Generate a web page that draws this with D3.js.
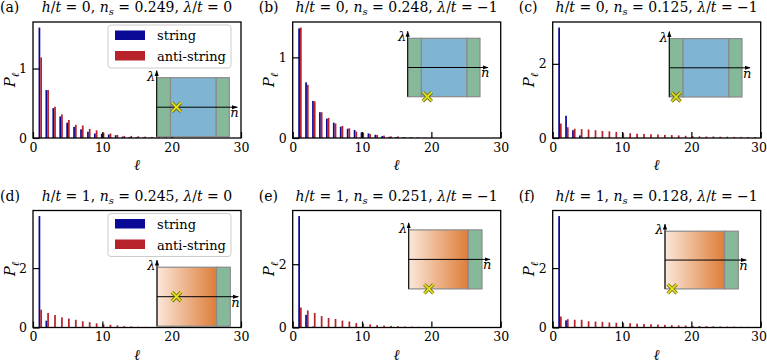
<!DOCTYPE html>
<html>
<head>
<meta charset="utf-8">
<script src="https://cdn.jsdelivr.net/npm/d3@7"></script>
<style>
body{margin:0;background:#fff}
svg text{font-family:"DejaVu Serif",serif;fill:#000}
</style>
</head>
<body>
<div id="chart"></div>
<script>
// ---- data ----
let ellShort=[1,2,3,4,5,6,7,8,9,10,11,12,13,14,15,16,17,18,19,20]
let ellLong=[1,2,3,4,5,6,7,8,9,10,11,12,13,14,15,16,17,18,19,20,21,22,23,24,25,26,27,28,29]

let panelLabels=["(a)","(b)","(c)","(d)","(e)","(f)"]
let hValues=["0","0","0","1","1","1"]
let nsValues=["0.249","0.248","0.125","0.245","0.251","0.128"]
let lambdaValues=[0,-1,-1,0,-1,-1]
let yTickValues=[[0,1],[0,1],[0,2],[0,2],[0,2],[0,2]]
let xTickValues=[0,10,20,30]

let stringA=[1.59,0.69,0.43,0.31,0.22,0.16,0.125,0.09,0.065,0.06,0.05,0.04,0.02,0.015,0.01,0.007,0.005,0.004,0.003,0.002]
let antiA=[1.16,0.69,0.45,0.34,0.26,0.19,0.18,0.13,0.11,0.075,0.065,0.045,0.03,0.03,0.025,0.02,0.015,0.012,0.008,0.005]
let stringB=[1.36,0.69,0.46,0.32,0.24,0.19,0.14,0.115,0.10,0.07,0.057,0.04,0.025,0.015,0.01,0.008,0.006,0.005,0.003,0.002]
let antiB=[1.37,0.66,0.455,0.32,0.25,0.18,0.15,0.12,0.08,0.065,0.05,0.037,0.03,0.02,0.02,0.012,0.01,0.007,0.005,0.003]
let stringC=[2.98,0.60,0.21,0.07,0.02,0.01,0.005,0,0,0,0,0,0,0,0,0,0,0,0,0,0,0,0,0,0,0,0,0,0]
let antiC=[0.39,0.29,0.25,0.24,0.23,0.21,0.19,0.18,0.165,0.14,0.13,0.115,0.11,0.10,0.095,0.085,0.08,0.07,0.06,0.05,0.045,0.04,0.04,0.035,0.035,0.03,0.03,0.028,0.025]
let stringD=[3.75,0.23,0.02,0,0,0,0,0,0,0,0,0,0,0,0,0,0,0,0,0]
let antiD=[0.60,0.49,0.42,0.34,0.30,0.26,0.21,0.18,0.14,0.11,0.09,0.07,0.045,0.035,0.025,0.02,0.015,0.01,0.008,0.005]
let stringE=[3.52,0.40,0.03,0,0,0,0,0,0,0,0,0,0,0,0,0,0,0,0,0]
let antiE=[0.63,0.54,0.46,0.36,0.30,0.27,0.22,0.19,0.14,0.12,0.10,0.075,0.06,0.05,0.04,0.03,0.025,0.02,0.015,0.01]
let stringF=[3.75,0.24,0.02,0,0,0,0,0,0,0,0,0,0,0,0,0,0,0,0,0,0,0,0,0,0,0,0,0,0]
let antiF=[0.37,0.28,0.26,0.26,0.21,0.20,0.19,0.17,0.16,0.15,0.145,0.13,0.12,0.11,0.10,0.09,0.08,0.07,0.065,0.06,0.05,0.045,0.04,0.035,0.03,0.03,0.025,0.02,0.02]

let stringSeries=[stringA,stringB,stringC,stringD,stringE,stringF]
let antiSeries=[antiA,antiB,antiC,antiD,antiE,antiF]
let ellSeries=[ellShort,ellShort,ellLong,ellShort,ellShort,ellLong]
let legendNames=["string","anti-string"]

// phase diagram boundaries of the insets (in n)
let phaseTop=[0.192,0.63]
let phaseBottom=[0.625]

// ---- layout ----
let svgWidth=767, svgHeight=364
let colLeft=[33,292.7,552.7]
let rowTop=[22,210.5]
let chartwidth=208
let chartheights=[116,117]
// inset box relative to each axes: [x, y, w, h]
let insetBox=[[123.7,55.7,72.6,59],[115,16.3,72.3,58.4],[116.6,16.6,72.7,58.4],
              [124,56.7,73.3,59],[116,19.4,73.3,59],[112.3,20.7,73.3,57.7]]
let stringColor="#0a0a96", antiColor="#b8222a"
let green="#86b99a", blue="#7fb5d2", border="#8a8a8a"
let serif='"DejaVu Serif",serif'

let svg=d3.select("#chart").append("svg")
  .attr("width",svgWidth).attr("height",svgHeight)
  .attr("font-family",serif)

let defs=svg.append("defs")
let grad=defs.append("linearGradient").attr("id","orangeGrad")
grad.append("stop").attr("offset","0%").attr("stop-color","#fbe7da")
grad.append("stop").attr("offset","100%").attr("stop-color","#de7d38")
defs.append("marker").attr("id","arrow")
  .attr("viewBox","0 0 10 10").attr("refX",9).attr("refY",5)
  .attr("markerWidth",6).attr("markerHeight",6).attr("orient","auto")
  .append("path").attr("d","M0,1.5L10,5L0,8.5z").attr("fill","#000")

function addTitle(sel,i){
  sel.append("tspan").attr("font-style","italic").text("h")
  sel.append("tspan").text("/")
  sel.append("tspan").attr("font-style","italic").text("t")
  sel.append("tspan").text(" = "+hValues[i]+", ")
  sel.append("tspan").attr("font-style","italic").text("n")
  sel.append("tspan").attr("font-style","italic").attr("font-size","10px").attr("dy",3).text("s")
  sel.append("tspan").attr("dy",-3).text(" = "+nsValues[i]+", ")
  sel.append("tspan").attr("font-style","italic").text("λ")
  sel.append("tspan").text("/")
  sel.append("tspan").attr("font-style","italic").text("t")
  sel.append("tspan").text(" = "+(lambdaValues[i]<0?"\u2212"+(-lambdaValues[i]):lambdaValues[i]))
}

for(let i=0;i<6;i++){
  let col=i%3, row=Math.floor(i/3)
  let w=chartwidth, h=chartheights[row]
  let left=colLeft[col], top=rowTop[row]
  let g=svg.append("g").attr("transform",`translate(${left},${top})`)

  let ells=ellSeries[i], sv=stringSeries[i], av=antiSeries[i]
  let xLinearScale=d3.scaleLinear().domain([0,30]).range([0,w])
  let ymax=d3.max(sv.concat(av))*1.05
  let yLinearScale=d3.scaleLinear().domain([0,ymax]).range([h,0])
  let bw=xLinearScale(0.25)-xLinearScale(0)

  //bars
  g.append("g").selectAll("rect").data(ells).enter().append("rect")
    .attr("x",(d)=>xLinearScale(d-0.2))
    .attr("width",bw)
    .attr("y",(d,k)=>yLinearScale(sv[k]))
    .attr("height",(d,k)=>h-yLinearScale(sv[k]))
    .attr("fill",stringColor)
  g.append("g").selectAll("rect").data(ells).enter().append("rect")
    .attr("x",(d)=>xLinearScale(d+0.05))
    .attr("width",bw)
    .attr("y",(d,k)=>yLinearScale(av[k]))
    .attr("height",(d,k)=>h-yLinearScale(av[k]))
    .attr("fill",antiColor)

  //axes
  let bottomAxis=d3.axisBottom(xLinearScale).tickValues(xTickValues)
    .tickSizeInner(-6).tickSizeOuter(0).tickPadding(5).tickFormat(d3.format("d"))
  let leftAxis=d3.axisLeft(yLinearScale).tickValues(yTickValues[i])
    .tickSizeInner(-6.5).tickSizeOuter(0).tickPadding(6).tickFormat(d3.format("d"))
  let xa=g.append("g").attr("transform",`translate(0,${h})`).call(bottomAxis)
  let ya=g.append("g").call(leftAxis)
  ;[xa,ya].forEach(a=>{
    a.attr("font-family",serif).attr("font-size",12.5)
    a.select(".domain").remove()
    a.selectAll(".tick line").attr("stroke","#000").attr("stroke-width",1.2)
    a.selectAll(".tick text").attr("fill","#000")
  })
  // keep the last label of the right column inside the page
  if(col===2) xa.selectAll(".tick text").filter(d=>d===30).attr("dx",-2.2)

  //inset
  let ib=insetBox[i]
  let ig=g.append("g").attr("transform",`translate(${ib[0]},${ib[1]})`)
  let nScale=d3.scaleLinear().domain([0.06,0.755]).range([0,ib[2]])
  let lScale=d3.scaleLinear().domain([-1,1]).range([ib[3],0])
  let edges, fills
  if(row===0){
    edges=[0.06].concat(phaseTop,[0.755]); fills=[green,blue,green]
  } else {
    edges=[0.06].concat(phaseBottom,[0.755]); fills=["url(#orangeGrad)",green]
  }
  for(let k=0;k<fills.length;k++){
    ig.append("rect")
      .attr("x",nScale(edges[k])).attr("y",0)
      .attr("width",nScale(edges[k+1])-nScale(edges[k])).attr("height",ib[3])
      .attr("fill",fills[k]).attr("stroke",border).attr("stroke-width",1.2)
  }
  ig.append("line").attr("x1",0).attr("x2",ib[2]+8)
    .attr("y1",lScale(0)).attr("y2",lScale(0))
    .attr("stroke","#000").attr("stroke-width",1).attr("marker-end","url(#arrow)")
  ig.append("line").attr("x1",0).attr("x2",0)
    .attr("y1",ib[3]).attr("y2",-7)
    .attr("stroke","#000").attr("stroke-width",1).attr("marker-end","url(#arrow)")
  ig.append("text").attr("x",-1.5).attr("y",3).attr("text-anchor","end")
    .attr("font-style","italic").attr("font-size","13px").text("λ")
  ig.append("text").attr("x",ib[2]+1).attr("y",lScale(0)+10)
    .attr("font-style","italic").attr("font-size","13px").text("n")
  //marker X
  let mx=nScale(+nsValues[i]), my=lScale(lambdaValues[i])
  let xp=`M${mx-4.5},${my-4.5}L${mx+4.5},${my+4.5}M${mx-4.5},${my+4.5}L${mx+4.5},${my-4.5}`
  ig.append("path").attr("d",xp).attr("stroke","#6e6e10").attr("stroke-width",3.4).attr("fill","none")
  ig.append("path").attr("d",xp).attr("stroke","#e4e41e").attr("stroke-width",1.7).attr("fill","none")

  //frame
  g.append("rect").attr("width",w).attr("height",h)
    .attr("fill","none").attr("stroke","#000").attr("stroke-width",1.3)

  //legend
  if(col===0){
    let lg=g.append("g").attr("transform",`translate(${w-133},3)`)
    lg.append("rect").attr("width",123).attr("height",43).attr("rx",3)
      .attr("fill","#fff").attr("fill-opacity",0.85).attr("stroke","#cccccc")
    ;[stringColor,antiColor].forEach((c,k)=>{
      lg.append("rect").attr("x",7).attr("y",5.5+k*20.5).attr("width",30).attr("height",9.5).attr("fill",c)
      lg.append("text").attr("x",49).attr("y",15+k*21).attr("font-size","13px").text(legendNames[k])
    })
  }

  //labels
  svg.append("text").attr("x",Math.max(0,left-34)).attr("y",top-10)
    .attr("font-size","14px").text(panelLabels[i])
  let t=svg.append("text").attr("x",left+w/2).attr("y",top-10)
    .attr("text-anchor","middle").attr("font-size","14px")
  addTitle(t,i)
  let yl=svg.append("text")
    .attr("transform",`translate(${left-18.5},${top+h/2}) rotate(-90)`)
    .attr("text-anchor","middle").attr("font-size","15px").attr("font-style","italic")
  yl.append("tspan").text("P")
  yl.append("tspan").attr("font-size","10.5px").attr("dy",4).text("ℓ")
  svg.append("text").attr("x",left+w/2).attr("y",top+h+32)
    .attr("text-anchor","middle").attr("font-size","15px").attr("font-style","italic").text("ℓ")
}
</script>
</body>
</html>
